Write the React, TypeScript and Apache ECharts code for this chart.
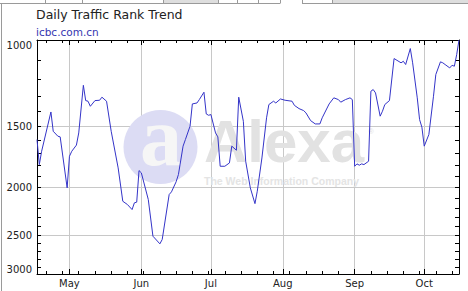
import React, { useEffect, useRef } from "react";
import * as echarts from "echarts";

const dates = [
  "2009-04-17","2009-04-18","2009-04-19","2009-04-23","2009-04-24","2009-04-26","2009-04-27","2009-04-30",
  "2009-05-01","2009-05-02","2009-05-04","2009-05-05","2009-05-07","2009-05-08","2009-05-09","2009-05-10",
  "2009-05-12","2009-05-14","2009-05-15","2009-05-17","2009-05-19","2009-05-22","2009-05-24","2009-05-26",
  "2009-05-28","2009-05-29","2009-05-30","2009-05-31","2009-06-01","2009-06-04","2009-06-06","2009-06-09",
  "2009-06-10","2009-06-13","2009-06-14","2009-06-16","2009-06-17","2009-06-19","2009-06-20","2009-06-22",
  "2009-06-23","2009-06-25","2009-06-26","2009-06-28","2009-06-29","2009-06-30","2009-07-01","2009-07-03",
  "2009-07-04","2009-07-05","2009-07-07","2009-07-09","2009-07-10","2009-07-12","2009-07-13","2009-07-15",
  "2009-07-16","2009-07-18","2009-07-20","2009-07-21","2009-07-23","2009-07-25","2009-07-26","2009-07-28",
  "2009-07-29","2009-07-31","2009-08-02","2009-08-05","2009-08-06","2009-08-08","2009-08-10","2009-08-11",
  "2009-08-13","2009-08-15","2009-08-17","2009-08-18","2009-08-21","2009-08-23","2009-08-25","2009-08-26",
  "2009-08-28","2009-08-30","2009-08-31","2009-09-01","2009-09-02","2009-09-03","2009-09-04","2009-09-05",
  "2009-09-07","2009-09-08","2009-09-09","2009-09-10","2009-09-12","2009-09-13","2009-09-14","2009-09-16",
  "2009-09-18","2009-09-21","2009-09-22","2009-09-23","2009-09-25","2009-09-26","2009-09-28","2009-09-29",
  "2009-09-30","2009-10-01","2009-10-03","2009-10-05","2009-10-06","2009-10-08","2009-10-09","2009-10-10",
  "2009-10-12","2009-10-13","2009-10-14","2009-10-15","2009-10-16",
];

const ranks = [
  1596, 1795, 1686, 1402, 1535, 1571, 1576, 2002,
  1726, 1686, 1638, 1547, 1237, 1329, 1333, 1365,
  1329, 1327, 1308, 1333, 1535, 1823, 2132, 2165,
  2217, 2148, 2141, 1846, 1866, 2115, 2512, 2604,
  2551, 2066, 2040, 1946, 1880, 1646, 1596, 1499,
  1350, 1344, 1323, 1278, 1415, 1424, 1419, 1547,
  1576, 1809, 1809, 1781, 1646, 1678, 1308, 1465,
  1767, 2002, 2156, 2034, 1740, 1441, 1354, 1333,
  1344, 1319, 1327, 1333, 1359, 1380, 1393, 1408,
  1460, 1483, 1483, 1441, 1350, 1312, 1323, 1339,
  1323, 1312, 1323, 1809, 1789, 1800, 1789, 1795,
  1767, 1272, 1262, 1282, 1430, 1397, 1354, 1329,
  1091, 1113, 1105, 1122, 1041, 1113, 1312, 1453,
  1506, 1646, 1559, 1302, 1176, 1108, 1113, 1122,
  1140, 1126, 1131, 1071, 1000,
];

const rankMin = 1000;
const rankMax = 3000;
const yLabelValues = [1000, 1500, 2000, 2500, 3000];
const yGridValues = [1500, 2000, 2500];
const yMinorValues = [
  1000, 1100, 1200, 1300, 1400, 1500, 1600, 1700, 1800, 1900, 2000,
  2100, 2200, 2300, 2400, 2500, 2600, 2700, 2800, 2900, 3000,
];

const xStart = "2009-04-17";
const xEnd = "2009-10-16";
const monthStarts = ["2009-05-01", "2009-06-01", "2009-07-01", "2009-08-01", "2009-09-01", "2009-10-01"];
const monthNames = ["May", "Jun", "Jul", "Aug", "Sep", "Oct"];
const weekTicks = [
  "2009-04-21","2009-04-28","2009-05-05","2009-05-12","2009-05-19","2009-05-26","2009-06-02",
  "2009-06-09","2009-06-16","2009-06-23","2009-06-30","2009-07-07","2009-07-14","2009-07-21",
  "2009-07-28","2009-08-04","2009-08-11","2009-08-18","2009-08-25","2009-09-01","2009-09-08",
  "2009-09-15","2009-09-22","2009-09-29","2009-10-06","2009-10-13",
];

const titleText = "Daily Traffic Rank Trend";
const siteText = "icbc.com.cn";

const ts = (s: string) => Date.parse(s + "T00:00:00Z");
const lg = (v: number) => Math.log10(v);

export default function App() {
  const ref = useRef<HTMLDivElement>(null);

  useEffect(() => {
    if (!ref.current) return;
    const chart = echarts.init(ref.current, undefined, { renderer: "svg" });
    const monthTs = monthStarts.map(ts);
    const weekTs = weekTicks.map(ts);
    const xMin = ts(xStart);
    const xMax = ts(xEnd);
    const yMin = lg(rankMin);
    const yMax = lg(rankMax);
    const axisColor = "#000";
    const labelFont = { fontFamily: "DejaVu Sans", fontSize: 10, color: "#222" };

    const monthFmt = (v: number) => {
      const i = monthTs.findIndex((m) => Math.abs(m - v) < 3600000);
      return i >= 0 ? monthNames[i] : "";
    };

    const baseX = {
      type: "value" as const,
      min: xMin,
      max: xMax,
      gridIndex: 0,
      scale: true,
    };
    const baseY = {
      type: "value" as const,
      min: yMin,
      max: yMax,
      inverse: true,
      gridIndex: 0,
    };

    const option: any = {
      animation: false,
      backgroundColor: "#fff",
      grid: { left: 37, top: 40, width: 422, height: 234, containLabel: false },
      xAxis: [
        {
          ...baseX,
          position: "bottom",
          axisLine: { show: true, onZero: false, lineStyle: { color: axisColor, width: 1 } },
          axisTick: { show: true, inside: true, length: 5, customValues: monthTs, lineStyle: { color: axisColor } },
          axisLabel: { show: true, customValues: monthTs, formatter: monthFmt, margin: 4, ...labelFont },
          splitLine: { show: true, lineStyle: { color: "#c8c8c8", width: 1 } },
        },
        {
          ...baseX,
          position: "bottom",
          axisLine: { show: false, onZero: false },
          axisTick: { show: true, inside: true, length: 3, customValues: weekTs, lineStyle: { color: axisColor } },
          axisLabel: { show: false },
          splitLine: { show: false },
        },
        {
          ...baseX,
          position: "top",
          axisLine: { show: true, onZero: false, lineStyle: { color: axisColor, width: 1 } },
          axisTick: { show: true, inside: true, length: 5, customValues: monthTs, lineStyle: { color: axisColor } },
          axisLabel: { show: false },
          splitLine: { show: false },
        },
        {
          ...baseX,
          position: "top",
          axisLine: { show: false, onZero: false },
          axisTick: { show: true, inside: true, length: 3, customValues: weekTs, lineStyle: { color: axisColor } },
          axisLabel: { show: false },
          splitLine: { show: false },
        },
      ],
      yAxis: [
        {
          ...baseY,
          position: "left",
          axisLine: { show: true, onZero: false, lineStyle: { color: axisColor, width: 1 } },
          axisTick: { show: true, inside: true, length: 4, customValues: yMinorValues.map(lg), lineStyle: { color: axisColor } },
          axisLabel: {
            show: true,
            customValues: yLabelValues.map(lg),
            formatter: (v: number) => String(Math.round(Math.pow(10, v))),
            margin: 5,
            verticalAlignMinLabel: "top",
            verticalAlignMaxLabel: "bottom",
            ...labelFont,
          },
          splitLine: { show: false },
        },
        {
          ...baseY,
          position: "left",
          axisLine: { show: false, onZero: false },
          axisTick: { show: false, customValues: yGridValues.map(lg) },
          axisLabel: { show: false },
          splitLine: { show: true, lineStyle: { color: "#c8c8c8", width: 1 } },
        },
        {
          ...baseY,
          position: "right",
          axisLine: { show: true, onZero: false, lineStyle: { color: axisColor, width: 1 } },
          axisTick: { show: true, inside: true, length: 4, customValues: yMinorValues.map(lg), lineStyle: { color: axisColor } },
          axisLabel: { show: false },
          splitLine: { show: false },
        },
      ],
      series: [
        {
          type: "line",
          xAxisIndex: 0,
          yAxisIndex: 0,
          data: dates.map((d, i) => [ts(d), lg(ranks[i])]),
          showSymbol: false,
          symbol: "none",
          lineStyle: { color: "#3434c8", width: 1 },
          z: 5,
        },
      ],
      graphic: [
        { type: "rect", shape: { x: 163, y: 0, width: 55, height: 3 }, style: { fill: "#dedede" }, z: 1 },
        { type: "rect", shape: { x: 332, y: 0, width: 136, height: 3 }, style: { fill: "#dedede" }, z: 1 },
        { type: "line", shape: { x1: 0, y1: 3.5, x2: 280, y2: 3.5 }, style: { stroke: "#9a9a9a", lineWidth: 1 }, z: 2 },
        { type: "line", shape: { x1: 302, y1: 3.5, x2: 468, y2: 3.5 }, style: { stroke: "#9a9a9a", lineWidth: 1 }, z: 2 },
        ...[45, 82, 163, 218, 237, 258, 280, 302, 332].map((x) => ({
          type: "line",
          shape: { x1: x + 0.5, y1: 0, x2: x + 0.5, y2: 3.5 },
          style: { stroke: "#9a9a9a", lineWidth: 1 },
          z: 2,
        })),
        { type: "line", shape: { x1: 1.5, y1: 3.5, x2: 1.5, y2: 291 }, style: { stroke: "#9a9a9a", lineWidth: 1 }, z: 2 },
        {
          type: "text", x: 36, y: 14.5, z: 2,
          style: { text: titleText, fill: "#222", font: '12.5px "DejaVu Sans"', textAlign: "left", textVerticalAlign: "middle" },
        },
        {
          type: "text", x: 36, y: 31.8, z: 2,
          style: { text: siteText, fill: "#3535b0", font: '10.5px "DejaVu Sans"', textAlign: "left", textVerticalAlign: "middle" },
        },
        { type: "circle", shape: { cx: 160.5, cy: 147, r: 37 }, style: { fill: "#dcdcf4" }, z: 1 },
        {
          type: "text", x: 161, y: 136, z: 1,
          style: { text: "a", fill: "#f6f6f6", font: 'bold 84px "Liberation Serif"', lineHeight: 50, textAlign: "center", textVerticalAlign: "middle" },
        },
        {
          type: "text", x: 204, y: 141, z: 1,
          style: { text: "Alexa", fill: "#e2e2e2", font: 'bold 60px "Liberation Sans"', lineHeight: 44, textAlign: "left", textVerticalAlign: "middle" },
        },
        {
          type: "text", x: 371, y: 131, z: 1,
          style: { text: "®", fill: "#e2e2e2", font: '7px "Liberation Sans"', lineHeight: 7, textAlign: "center", textVerticalAlign: "middle" },
        },
        {
          type: "text", x: 204, y: 181, z: 1,
          style: { text: "The Web Information Company", fill: "#e4e4e4", font: 'bold 10.5px "Liberation Sans"', lineHeight: 10, textAlign: "left", textVerticalAlign: "middle" },
        },
      ],
    };

    chart.setOption(option);
    return () => chart.dispose();
  }, []);

  return (
    <div
      ref={ref}
      style={{ position: "fixed", left: 0, top: 0, width: 468, height: 291, background: "#fff" }}
    />
  );
}
